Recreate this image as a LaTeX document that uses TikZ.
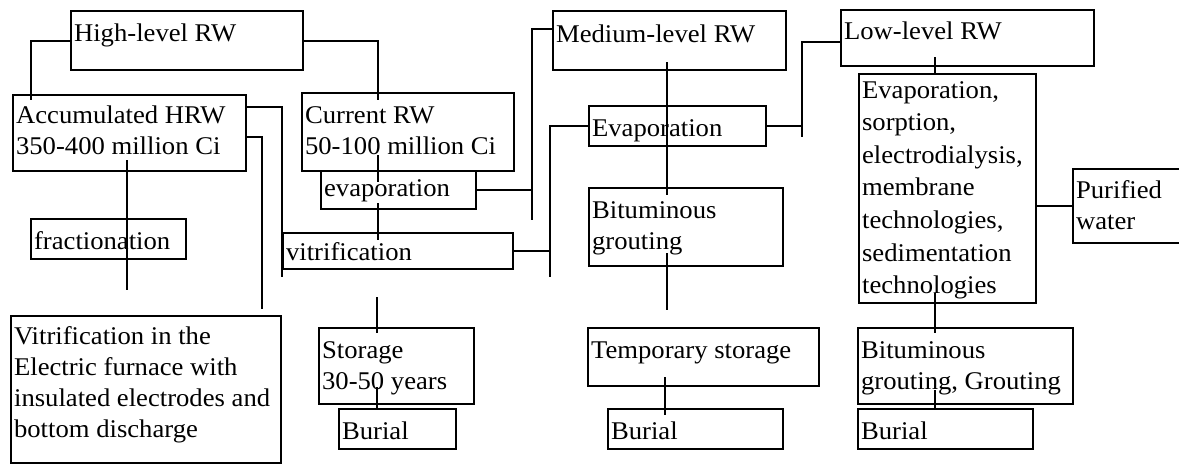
\documentclass[tikz,border=0pt]{standalone}
\usepackage{fontspec}
\setmainfont[FakeStretch=1.045]{Liberation Serif}
\usetikzlibrary{calc}
\newcommand\bxt[4]{\parbox[b][#2][t]{#1}{\raggedright\leftskip=3pt\rule{0pt}{#3}#4}}
\tikzset{
  box/.style={draw, line width=2.2pt, inner sep=0pt, anchor=north west,
    font=\fontsize{25.5pt}{31pt}\selectfont},
  procbox/.style={box, font=\fontsize{25.5pt}{32.6pt}\selectfont},
  conn/.style={line width=1.8pt},
}
\begin{document}
\begin{tikzpicture}[x=1pt,y=-1pt]
\useasboundingbox (0,0) rectangle (1179,466);
% high-level branch
\node[box] (hl) at (70,10) {\bxt{232pt}{59pt}{30pt}{High-level RW}};
\node[box] (acc) at (12,94) {\bxt{233pt}{76pt}{28pt}{Accumulated HRW\\350-400 million Ci}};
\node[box] (cur) at (301,92) {\bxt{212pt}{78pt}{30pt}{Current RW\\50-100 million Ci}};
\node[box] (evap) at (320,170) {\bxt{155pt}{38pt}{25pt}{evaporation}};
\node[box] (vit) at (282,232) {\bxt{230pt}{36pt}{27pt}{vitrification}};
\node[box] (frac) at (30,218) {\bxt{155pt}{40pt}{30pt}{fractionation}};
\node[box] (fur) at (10,315) {\bxt{270pt}{147pt}{28pt}{Vitrification in the\\Electric furnace with\\insulated electrodes and\\bottom discharge}};
\node[box] (stor) at (318,327) {\bxt{155pt}{76pt}{30pt}{Storage\\30-50 years}};
\node[box] (bur1) at (338,408) {\bxt{117pt}{40pt}{30pt}{Burial}};
% medium-level branch
\node[box] (mrw) at (552,10) {\bxt{233pt}{59pt}{31pt}{Medium-level RW}};
\node[box] (evm) at (588,105) {\bxt{177pt}{40pt}{30pt}{Evaporation}};
\node[box] (bitm) at (588,187) {\bxt{194pt}{78pt}{30pt}{Bituminous\\grouting}};
\node[box] (temp) at (587,327) {\bxt{231pt}{58pt}{30pt}{Temporary storage}};
\node[box] (bur2) at (607,408) {\bxt{175pt}{40pt}{30pt}{Burial}};
% low-level branch
\node[box] (lrw) at (840,9) {\bxt{253pt}{56pt}{29pt}{Low-level RW}};
\node[procbox] (proc) at (858,73) {\bxt{177pt}{229pt}{24pt}{Evaporation,\\sorption,\\electrodialysis,\\membrane\\technologies,\\sedimentation\\technologies}};
\node[box] (pw) at (1072,168) {\bxt{115pt}{74pt}{29pt}{Purified\\water}};
\node[box] (bitl) at (857,327) {\bxt{215pt}{76pt}{30pt}{Bituminous\\grouting, Grouting}};
\node[box] (bur3) at (857,408) {\bxt{175pt}{40pt}{30pt}{Burial}};
% connectors: high-level
\coordinate (accL) at ($(acc.north west)+(19,6)$);
\draw[conn] (hl.west) -| (accL);
\coordinate (curT) at ($(cur.north west)+(77,8)$);
\draw[conn] (hl.east) -| (curT);
\draw[conn] ($(cur.north west)+(77,63)$) -- ($(evap.north west)+(58,12)$);
\draw[conn] ($(evap.north west)+(58,33)$) -- ($(vit.north west)+(96,8)$);
\coordinate (a1) at (282,277);
\draw[conn] ($(acc.north east)+(0,13)$) -| (a1);
\coordinate (a2) at ($(fur.north east)+(-20,-6)$);
\draw[conn] ($(acc.north east)+(0,43)$) -| (a2);
\draw[conn] ($(acc.north west)+(115,66)$) -- ($(frac.north west)+(97,72)$);
\draw[conn] ($(vit.south west)+(95,27)$) -- ($(stor.north west)+(59,6)$);
\draw[conn] ($(stor.north west)+(59,60)$) -- ($(bur1.north west)+(39,2)$);
% connectors: medium-level
\coordinate (mb) at (532,220);
\draw[conn] ($(mrw.north west)+(0,19)$) -| (mb);
\draw[conn] (evap.east) -- (evap.east -| mb);
\coordinate (vb) at (550,277);
\draw[conn] (evm.west) -| (vb);
\draw[conn] (vit.east) -- (vit.east -| vb);
\draw[conn] ($(mrw.north west)+(115,52)$) -- ($(evm.north west)+(79,25)$);
\draw[conn] ($(evm.north west)+(79,25)$) -- ($(bitm.north west)+(79,8)$);
\draw[conn] ($(bitm.north west)+(79,66)$) -- ($(bitm.south west)+(79,43)$);
\draw[conn] ($(temp.north west)+(78,50)$) -- ($(bur2.north west)+(58,7)$);
% connectors: low-level
\coordinate (lb) at (802,137);
\draw[conn] ($(lrw.north west)+(0,33)$) -| (lb);
\draw[conn] (evm.east) -- (evm.east -| lb);
\draw[conn] ($(lrw.north west)+(95,48)$) -- ($(proc.north west)+(77,0)$);
\draw[conn] ($(proc.north west)+(77,220)$) -- ($(bitl.north west)+(78,6)$);
\draw[conn] ($(bitl.north west)+(78,63)$) -- ($(bur3.north west)+(78,0)$);
\draw[conn] (pw.west) -- (pw.west -| proc.east);
\end{tikzpicture}
\end{document}
